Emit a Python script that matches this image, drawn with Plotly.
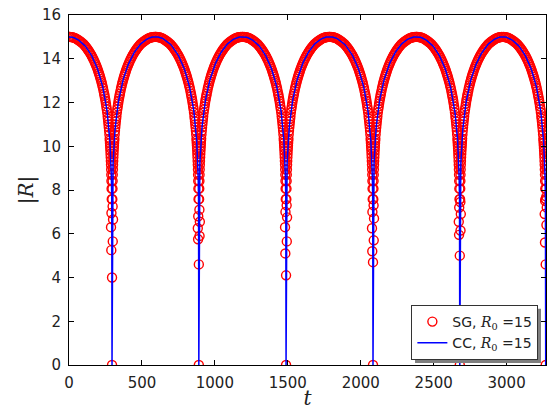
import plotly.graph_objects as go

# ---- data ----
# times at which |R| touches zero (t units)
zero_times = [295, 890, 1488, 2084, 2679, 3268]
# half-arch profile: distance from a zero (t units) -> |R|
profile_d = [2, 3, 4, 5, 6, 7, 8, 9, 10, 11, 12, 13, 14, 15, 16, 18, 20, 22, 24, 26,
             28, 30, 33, 36, 39, 42, 45, 48, 51, 54, 58, 62, 66, 70, 74, 78, 82, 86,
             90, 95, 100, 105, 110, 115, 120, 126, 132, 138, 144, 150, 157, 164, 171,
             178, 185, 193, 201, 209, 217, 225, 234, 243, 252, 261, 270, 279, 288, 297]
profile_r = [7.58, 8.06, 8.41, 8.70, 8.94, 9.15, 9.33, 9.50, 9.65, 9.79, 9.92, 10.04,
             10.15, 10.26, 10.35, 10.54, 10.71, 10.86, 11.00, 11.13, 11.26, 11.37,
             11.54, 11.69, 11.82, 11.95, 12.08, 12.19, 12.30, 12.40, 12.53, 12.66,
             12.77, 12.88, 12.98, 13.08, 13.17, 13.26, 13.34, 13.44, 13.54, 13.63,
             13.71, 13.79, 13.87, 13.96, 14.04, 14.12, 14.19, 14.26, 14.33, 14.40,
             14.47, 14.53, 14.59, 14.65, 14.70, 14.75, 14.79, 14.83, 14.87, 14.91,
             14.94, 14.96, 14.98, 14.99, 15.00, 15.00]
# SG circles stacked in the column at each dip (one list per dip)
sg_dip_r = [
    [0, 4.0, 5.25, 5.65, 6.30, 6.65, 6.95, 7.25],
    [0, 4.6, 5.75, 5.90, 6.25, 6.55, 6.80, 7.10],
    [0, 4.1, 5.10, 5.65, 6.30, 6.75, 7.00, 7.30],
    [0, 4.7, 5.20, 5.70, 6.25, 6.70, 7.00, 7.30],
    [0, 5.0, 5.95, 6.15, 6.55, 6.90, 7.20, 7.45],
    [0, 4.6, 5.60, 6.40, 6.90, 7.20, 7.50, 7.70],
]
sg_dip_dt = [0, 0, -5, 5, -7, 7, -4, 4]

x_ticks = [0, 500, 1000, 1500, 2000, 2500, 3000]
y_ticks = [0, 2, 4, 6, 8, 10, 12, 14, 16]


def arch_points(include_zero):
    pts = []
    n = len(zero_times)
    for k, z in enumerate(zero_times):
        left_lim = (z - zero_times[k - 1]) / 2 if k > 0 else z + 5
        right_lim = (zero_times[k + 1] - z) / 2 if k < n - 1 else 400
        for d, r in zip(profile_d, profile_r):
            if d <= left_lim + 1:
                pts.append((z - d, r))
            if d <= right_lim + 1:
                pts.append((z + d, r))
        if include_zero:
            pts.append((z, 0.0))
    pts.sort()
    return [p[0] for p in pts], [p[1] for p in pts]


cc_t, cc_r = arch_points(True)
sg_t, sg_r = arch_points(False)
for z, col in zip(zero_times, sg_dip_r):
    for dt, r in zip(sg_dip_dt, col):
        sg_t.append(z + dt)
        sg_r.append(r)

fig = go.Figure()
fig.add_trace(go.Scatter(
    x=sg_t, y=sg_r, mode="markers",
    name="SG, <span style='font-family:DejaVu Serif'><i>R</i><sub>0</sub></span> =15",
    marker=dict(symbol="circle-open", size=9, color="#ff0000",
                line=dict(width=1.4, color="#ff0000")),
))
fig.add_trace(go.Scatter(
    x=cc_t, y=cc_r, mode="lines",
    name="CC, <span style='font-family:DejaVu Serif'><i>R</i><sub>0</sub></span> =15",
    line=dict(color="#0000ff", width=1.5),
))

axis_common = dict(
    showline=True, linecolor="black", linewidth=1, mirror="allticks",
    ticks="inside", ticklen=5, tickcolor="black", tickwidth=1,
    showgrid=False, zeroline=False, automargin=False,
    ticklabeloverflow="allow",
    tickfont=dict(family="DejaVu Sans", size=15, color="#222222"),
)

# legend drop shadow (matplotlib-style), offset a few px behind the legend box
fig.add_shape(type="rect", xref="paper", yref="paper",
              x0=0.7254, x1=0.9895, y0=0.0057, y1=0.161,
              fillcolor="#7f7f7f", line=dict(width=0), layer="above")

fig.update_layout(
    width=552, height=410,
    margin=dict(l=69, r=6, t=15, b=45),
    paper_bgcolor="white", plot_bgcolor="white",
    showlegend=True,
    legend=dict(
        x=0.984, y=0.0143, xanchor="right", yanchor="bottom",
        bgcolor="white", bordercolor="#333333", borderwidth=1,
        font=dict(family="DejaVu Sans", size=14, color="#222222"),
        tracegroupgap=0,
    ),
    xaxis=dict(range=[0, 3270], tickvals=x_ticks, ticklabelstandoff=4,
               title=dict(text="<i>t</i>", font=dict(family="DejaVu Serif", size=20, color="#222222"),
                          standoff=4),
               **axis_common),
    yaxis=dict(range=[0, 16], tickvals=y_ticks, ticklabelstandoff=4,
               title=dict(text="|<i>R</i>|", font=dict(family="DejaVu Serif", size=20, color="#222222"),
                          standoff=2),
               **axis_common),
)

# remove the default 8 px page margin so the figure fills the 552x410 window
fig.write_html("out.html", config={"displayModeBar": False},
               post_script="document.body.style.margin='0';document.body.style.overflow='hidden';")
